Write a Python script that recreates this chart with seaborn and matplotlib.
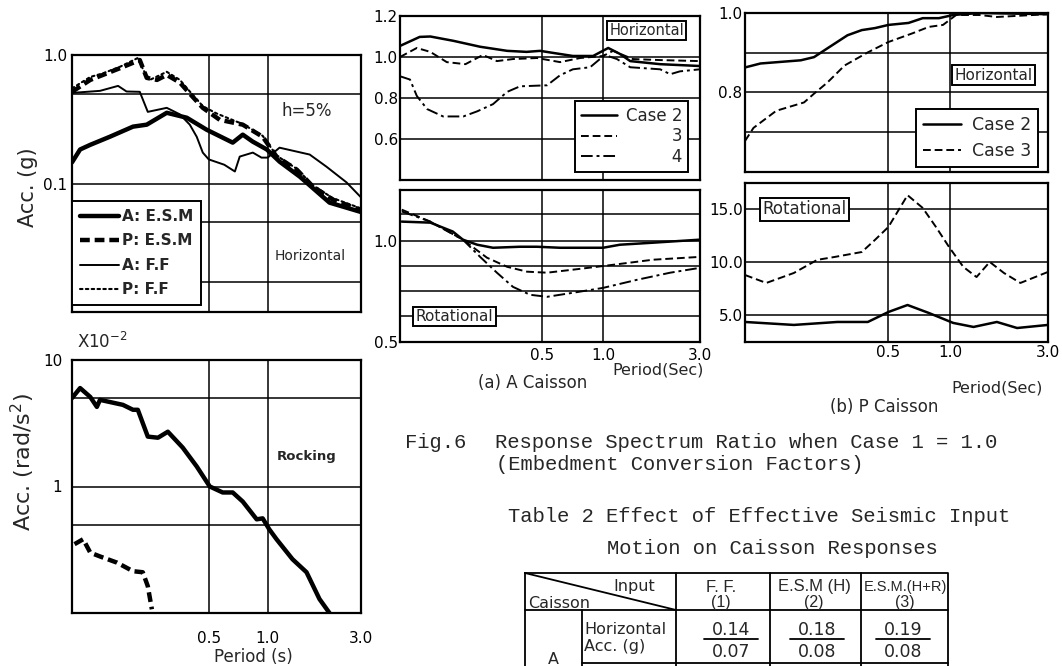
import matplotlib
matplotlib.use("Agg")
import seaborn as sns
import matplotlib.pyplot as plt
from matplotlib.ticker import NullFormatter

# ---- values ----
# top left: horizontal acceleration spectra (g), h=5%
hz_a_esm_t = [0.1, 0.11, 0.124, 0.156, 0.205, 0.241, 0.305, 0.386, 0.488, 0.663, 0.746, 0.838, 0.99, 1.15, 1.46, 2.07, 3.0]
hz_a_esm_v = [0.146, 0.184, 0.2, 0.231, 0.277, 0.287, 0.355, 0.325, 0.262, 0.208, 0.24, 0.212, 0.184, 0.148, 0.113, 0.071, 0.06]
hz_p_esm_t = [0.1, 0.124, 0.176, 0.222, 0.241, 0.272, 0.305, 0.356, 0.4, 0.466, 0.569, 0.746, 0.943, 1.11, 1.41, 1.7, 2.15, 3.0]
hz_p_esm_v = [0.517, 0.64, 0.79, 0.914, 0.664, 0.64, 0.70, 0.61, 0.5, 0.388, 0.313, 0.287, 0.231, 0.162, 0.128, 0.095, 0.075, 0.062]
hz_a_ff_t = [0.1, 0.139, 0.172, 0.19, 0.222, 0.244, 0.305, 0.356, 0.4, 0.434, 0.466, 0.5, 0.6, 0.68, 0.72, 0.84, 0.93, 1.0, 1.15, 1.64, 2.0, 2.53, 3.0]
hz_a_ff_v = [0.507, 0.526, 0.575, 0.52, 0.517, 0.361, 0.388, 0.345, 0.287, 0.231, 0.174, 0.154, 0.14, 0.124, 0.162, 0.174, 0.159, 0.159, 0.19, 0.168, 0.135, 0.102, 0.078]
hz_p_ff_t = [0.1, 0.124, 0.144, 0.176, 0.217, 0.232, 0.25, 0.305, 0.356, 0.4, 0.466, 0.55, 0.746, 0.943, 1.11, 1.41, 1.7, 2.15, 3.0]
hz_p_ff_v = [0.55, 0.675, 0.72, 0.81, 0.948, 0.76, 0.64, 0.74, 0.64, 0.52, 0.40, 0.35, 0.29, 0.235, 0.165, 0.13, 0.097, 0.077, 0.064]

# bottom left: rocking acceleration (x10^-2 rad/s^2)
rk_a_t = [0.1, 0.11, 0.124, 0.134, 0.139, 0.182, 0.205, 0.217, 0.244, 0.275, 0.309, 0.368, 0.434, 0.506, 0.589, 0.663, 0.746, 0.879, 0.943, 1.02, 1.11, 1.34, 1.58, 1.84, 2.07]
rk_a_v = [5.0, 6.0, 5.1, 4.26, 4.84, 4.42, 4.04, 4.04, 2.48, 2.43, 2.71, 2.03, 1.44, 1.0, 0.897, 0.897, 0.76, 0.55, 0.56, 0.458, 0.383, 0.266, 0.21, 0.129, 0.10]
rk_p_t = [0.103, 0.114, 0.124, 0.139, 0.17, 0.205, 0.23, 0.244, 0.256]
rk_p_v = [0.35, 0.383, 0.30, 0.28, 0.25, 0.214, 0.21, 0.163, 0.107]

# (a) A caisson, horizontal ratio
ah_c2_t = [0.1, 0.125, 0.141, 0.183, 0.248, 0.337, 0.42, 0.49, 0.567, 0.71, 0.893, 1.06, 1.21, 1.36, 1.91, 3.0]
ah_c2_v = [1.054, 1.098, 1.10, 1.079, 1.05, 1.03, 1.025, 1.03, 1.02, 1.005, 1.005, 1.044, 1.015, 0.98, 0.965, 0.956]
ah_c3_t = [0.1, 0.121, 0.141, 0.17, 0.21, 0.256, 0.30, 0.36, 0.473, 0.614, 0.77, 1.0, 1.12, 1.4, 1.91, 3.0]
ah_c3_v = [1.0, 1.044, 1.025, 0.975, 0.965, 1.01, 0.98, 0.99, 0.995, 0.975, 0.995, 1.005, 1.03, 0.99, 0.985, 0.98]
ah_c4_t = [0.1, 0.112, 0.121, 0.136, 0.163, 0.205, 0.24, 0.287, 0.337, 0.39, 0.53, 0.614, 0.71, 0.863, 1.02, 1.17, 1.36, 1.91, 2.14, 2.39, 3.0]
ah_c4_v = [0.906, 0.89, 0.81, 0.746, 0.71, 0.71, 0.735, 0.77, 0.83, 0.857, 0.862, 0.911, 0.94, 0.95, 1.01, 0.99, 0.95, 0.94, 0.916, 0.93, 0.94]

# (a) A caisson, rotational ratio
ar_c2_t = [0.102, 0.141, 0.182, 0.204, 0.24, 0.287, 0.39, 0.473, 0.614, 1.0, 1.21, 1.76, 3.0]
ar_c2_v = [1.094, 1.089, 1.045, 1.005, 0.98, 0.965, 0.97, 0.97, 0.965, 0.965, 0.98, 0.99, 1.005]
ar_c3_t = [0.102, 0.141, 0.204, 0.268, 0.337, 0.422, 0.53, 0.77, 1.12, 1.76, 3.0]
ar_c3_v = [1.153, 1.094, 1.005, 0.916, 0.871, 0.847, 0.842, 0.861, 0.881, 0.906, 0.92]
ar_c4_t = [0.102, 0.141, 0.204, 0.248, 0.30, 0.36, 0.437, 0.53, 0.711, 1.0, 1.47, 2.14, 3.0]
ar_c4_v = [1.144, 1.094, 1.005, 0.92, 0.842, 0.772, 0.733, 0.723, 0.743, 0.767, 0.807, 0.842, 0.866]

# (b) P caisson, horizontal ratio
ph_c2_t = [0.1, 0.119, 0.187, 0.217, 0.252, 0.316, 0.371, 0.43, 0.5, 0.627, 0.735, 0.882, 1.035, 1.39, 3.0]
ph_c2_v = [0.863, 0.873, 0.881, 0.889, 0.911, 0.944, 0.957, 0.962, 0.97, 0.975, 0.987, 0.987, 0.995, 1.0, 0.997]
ph_c3_t = [0.1, 0.11, 0.142, 0.194, 0.217, 0.252, 0.306, 0.397, 0.5, 0.656, 0.787, 0.923, 1.07, 1.39, 1.69, 3.0]
ph_c3_v = [0.678, 0.711, 0.754, 0.775, 0.797, 0.825, 0.868, 0.901, 0.927, 0.949, 0.965, 0.97, 0.995, 0.995, 0.99, 0.997]

# (b) P caisson, rotational ratio
pr_c2_t = [0.1, 0.173, 0.282, 0.397, 0.5, 0.62, 0.787, 1.035, 1.30, 1.69, 2.12, 3.0]
pr_c2_v = [4.34, 4.06, 4.34, 4.34, 5.28, 5.94, 5.19, 4.25, 3.87, 4.34, 3.77, 4.06]
pr_c3_t = [0.1, 0.127, 0.173, 0.225, 0.273, 0.371, 0.43, 0.5, 0.62, 0.735, 0.853, 0.989, 1.16, 1.345, 1.56, 1.83, 2.2, 3.0]
pr_c3_v = [8.77, 8.02, 8.96, 10.2, 10.47, 10.94, 12.08, 13.3, 16.3, 15.1, 13.3, 11.4, 9.53, 8.58, 10.0, 8.96, 8.02, 9.06]

# Table 2 (row A)
table_cols = ["F. F.", "E.S.M (H)", "E.S.M.(H+R)"]
table_nums = ["(1)", "(2)", "(3)"]
a_top = [0.14, 0.18, 0.19]
a_bot = [0.07, 0.08, 0.08]

period_ticks = [0.5, 1.0, 3.0]
period_labels = ["0.5", "1.0", "3.0"]

sns.set_style("white")
plt.rcParams["font.family"] = ["DejaVu Sans"]
plt.rcParams["axes.linewidth"] = 1.6

fig = plt.figure(figsize=(10.62, 6.66), dpi=100)
W, H = 1062, 666


def box(l, t, r, b):
    return [l / W, 1 - b / H, (r - l) / W, (b - t) / H]


def curve(ax, t, v, lw, ls="-", label=None, cap="butt"):
    sns.lineplot(x=t, y=v, ax=ax, color="black", lw=lw, linestyle=ls, label=label,
                 estimator=None, sort=False, dash_capstyle=cap)


def frame(ax, ylim, ymaj, ylab, ymin, xlab=False, xpad=4, ypad=2):
    ax.set_xlim(0.1, 3.0)
    ax.set_ylim(*ylim)
    ax.set_xticks(period_ticks)
    ax.set_xticklabels(period_labels if xlab else [])
    ax.set_xticks([], minor=True)
    ax.set_yticks(ymaj)
    ax.set_yticklabels(ylab)
    ax.set_yticks(ymin, minor=True)
    ax.xaxis.set_minor_formatter(NullFormatter())
    ax.yaxis.set_minor_formatter(NullFormatter())
    ax.grid(True, which="both", color="black", lw=1.1)
    ax.tick_params(which="both", length=0, labelsize=11, colors="black")
    ax.tick_params(axis="x", pad=xpad)
    ax.tick_params(axis="y", pad=ypad)
    for s in ax.spines.values():
        s.set_color("black")
        s.set_linewidth(1.6)


def legend(ax, loc, anchor, size, weight="normal", **kw):
    leg = ax.legend(loc=loc, bbox_to_anchor=anchor, borderaxespad=0, fancybox=False,
                    framealpha=1, prop={"size": size, "weight": weight}, **kw)
    leg.get_frame().set_edgecolor("black")
    leg.get_frame().set_linewidth(1.4)
    return leg


def tag(ax, x, y, s, size):
    ax.text(x, y, s, transform=ax.transAxes, ha="center", va="center", fontsize=size,
            bbox=dict(boxstyle="square,pad=0.15", fc="white", ec="black", lw=1.4), zorder=5)


# ---- top left: horizontal spectra ----
ax1 = fig.add_axes(box(72, 55, 361, 312))
ax1.set_xscale("log")
ax1.set_yscale("log")
curve(ax1, hz_a_esm_t, hz_a_esm_v, 3.2, label="A: E.S.M")
curve(ax1, hz_p_esm_t, hz_p_esm_v, 3.2, ls=(0, (2.2, 1.1)), label="P: E.S.M")
curve(ax1, hz_a_ff_t, hz_a_ff_v, 1.4, label="A: F.F")
curve(ax1, hz_p_ff_t, hz_p_ff_v, 1.5, ls=(0, (1.2, 1.6)), label="P: F.F", cap="round")
frame(ax1, (0.01, 1.0), [1.0, 0.1], ["1.0", "0.1"], [0.5, 0.05, 0.017], ypad=3.5)
legend(ax1, "lower left", (0, 0.027), 11, "bold", handlelength=2.6, handletextpad=0.2,
       labelspacing=0.62, borderpad=0.5)
ax1.set_ylabel("Acc. (g)", fontsize=15)
ax1.yaxis.set_label_coords(-0.118, 0.486)
ax1.text(0.813, 0.782, "h=5%", transform=ax1.transAxes, ha="center", va="center", fontsize=12)
ax1.text(0.702, 0.218, "Horizontal", transform=ax1.transAxes, ha="left", va="center", fontsize=10)

# ---- bottom left: rocking spectra ----
ax2 = fig.add_axes(box(72, 360, 361, 613))
ax2.set_xscale("log")
ax2.set_yscale("log")
curve(ax2, rk_a_t, rk_a_v, 3.2)
curve(ax2, rk_p_t, rk_p_v, 3.2, ls=(0, (2.2, 1.1)))
frame(ax2, (0.1, 10), [10, 1], ["10", "1"], [5, 0.5], xlab=True, xpad=13, ypad=7)
ax2.set_ylabel("Acc. (rad/s$^2$)", fontsize=16)
ax2.yaxis.set_label_coords(-0.121, 0.597)
ax2.set_xlabel("Period (s)", fontsize=12)
ax2.xaxis.set_label_coords(0.626, -0.138)
ax2.text(0.017, 1.07, "X10$^{-2}$", transform=ax2.transAxes, ha="left", va="center", fontsize=12)
ax2.text(0.709, 0.617, "Rocking", transform=ax2.transAxes, ha="left", va="center",
         fontsize=9.5, fontweight="bold")

# ---- (a) A caisson ----
ax3 = fig.add_axes(box(400, 16, 700, 180))
ax3.set_xscale("log")
curve(ax3, ah_c2_t, ah_c2_v, 1.8, label="Case 2")
curve(ax3, ah_c3_t, ah_c3_v, 1.4, ls=(0, (4, 2)), label="\u2007\u2007\u2007\u2007\u20093")
curve(ax3, ah_c4_t, ah_c4_v, 1.4, ls=(0, (6, 2, 1.5, 2)), label="\u2007\u2007\u2007\u2007\u20094")
frame(ax3, (0.4, 1.2), [1.2, 1.0, 0.8, 0.6], ["1.2", "1.0", "0.8", "0.6"], [], ypad=1.5)
legend(ax3, "lower right", (0.96, 0.05), 12, handlelength=2.2, handletextpad=0.5,
       labelspacing=0.15, borderpad=0.35)
tag(ax3, 0.823, 0.912, "Horizontal", 10.5)

ax4 = fig.add_axes(box(400, 190, 700, 342))
ax4.set_xscale("log")
curve(ax4, ar_c2_t, ar_c2_v, 1.8)
curve(ax4, ar_c3_t, ar_c3_v, 1.4, ls=(0, (4, 2)))
curve(ax4, ar_c4_t, ar_c4_v, 1.4, ls=(0, (6, 2, 1.5, 2)))
frame(ax4, (0.5, 1.25), [1.0, 0.5], ["1.0", "0.5"], [1.134, 0.876, 0.752, 0.63],
      xlab=True, xpad=4, ypad=1.5)
ax4.set_xlabel("Period(Sec)", fontsize=11.5)
ax4.xaxis.set_label_coords(0.86, -0.132)
tag(ax4, 0.182, 0.168, "Rotational", 11)

# ---- (b) P caisson ----
ax5 = fig.add_axes(box(745, 13, 1048, 172))
ax5.set_xscale("log")
curve(ax5, ph_c2_t, ph_c2_v, 1.8, label="Case 2")
curve(ax5, ph_c3_t, ph_c3_v, 1.4, ls=(0, (4, 2)), label="Case 3")
frame(ax5, (0.6, 1.0), [1.0, 0.8], ["1.0", "0.8"], [0.9, 0.7], ypad=2)
legend(ax5, "lower right", (0.967, 0.031), 12.5, handlelength=2.2, handletextpad=0.6,
       labelspacing=0.45, borderpad=0.4)
tag(ax5, 0.82, 0.61, "Horizontal", 11)

ax6 = fig.add_axes(box(745, 183, 1048, 342))
ax6.set_xscale("log")
curve(ax6, pr_c2_t, pr_c2_v, 1.8)
curve(ax6, pr_c3_t, pr_c3_v, 1.4, ls=(0, (4, 2)))
frame(ax6, (2.45, 17.45), [15, 10, 5], ["15.0", "10.0", "5.0"], [], xlab=True, xpad=2, ypad=1.5)
ax6.set_xlabel("Period(Sec)", fontsize=11.5)
ax6.xaxis.set_label_coords(0.832, -0.24)
tag(ax6, 0.196, 0.836, "Rotational", 12)

# ---- captions and table (pixel coordinates) ----
ov = fig.add_axes([0, 0, 1, 1], zorder=10)
ov.set_xlim(0, W)
ov.set_ylim(H, 0)
ov.axis("off")

ov.text(533, 383, "(a) A Caisson", ha="center", va="center", fontsize=12)
ov.text(884, 407, "(b) P Caisson", ha="center", va="center", fontsize=12)

mono = dict(family="Liberation Mono", fontsize=14.8, ha="left", va="center")
ov.text(405, 442, "Fig.6", **mono)
ov.text(495, 442, "Response Spectrum Ratio when Case 1 = 1.0", **mono)
ov.text(496, 465, "(Embedment Conversion Factors)", **mono)
ov.text(508, 516, "Table 2 Effect of Effective Seismic Input", **mono)
ov.text(607, 548, "Motion on Caisson Responses", **mono)

rule = dict(color="black", lw=1.3)
ov.plot([525, 948, 948, 525, 525], [573, 573, 672, 672, 573], **rule)
ov.plot([525, 948], [610, 610], **rule)
ov.plot([525, 676], [573, 610], **rule)
for xc in [676, 770, 861]:
    ov.plot([xc, xc], [573, 672], **rule)
ov.plot([582, 582], [610, 672], **rule)
ov.plot([582, 948], [663, 663], **rule)

ov.text(613, 586, "Input", ha="left", va="center", fontsize=11.5)
ov.text(528, 604, "Caisson", ha="left", va="center", fontsize=11.5)
head_x = [721, 814, 905]
head_sz = [12, 12, 10.5]
for xc, name, num, sz in zip(head_x, table_cols, table_nums, head_sz):
    ov.text(xc, 587, name, ha="center", va="center", fontsize=sz, family="Liberation Sans")
    ov.text(xc, 603, num, ha="center", va="center", fontsize=11.5, family="Liberation Sans")

ov.text(584, 629, "Horizontal", ha="left", va="center", fontsize=11.5)
ov.text(584, 647, "Acc. (g)", ha="left", va="center", fontsize=11.5)
ov.text(553, 659, "A", ha="center", va="center", fontsize=11.5)
frac_x = [731, 817, 903]
for xc, top, bot in zip(frac_x, a_top, a_bot):
    ov.text(xc, 630, f"{top:.2f}", ha="center", va="center", fontsize=12.5)
    ov.text(xc, 652, f"{bot:.2f}", ha="center", va="center", fontsize=12.5)
    ov.plot([xc - 27, xc + 27], [639, 639], **rule)

fig.savefig("out.png", dpi=100)
